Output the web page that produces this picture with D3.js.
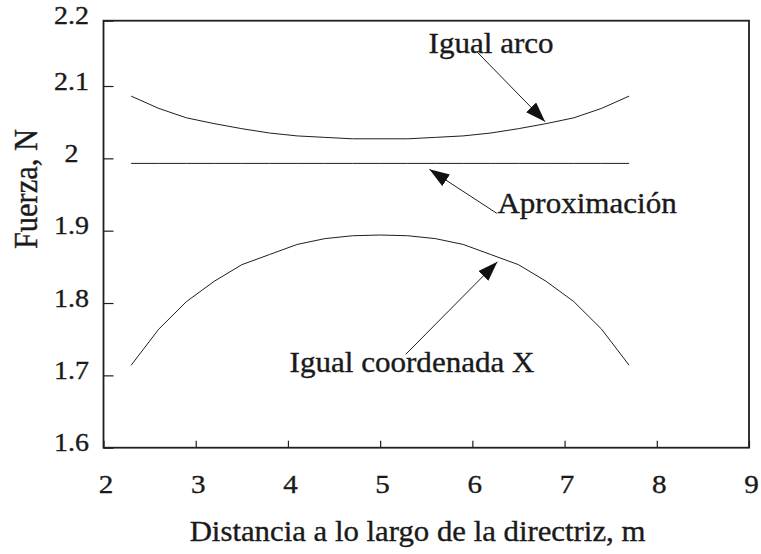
<!DOCTYPE html>
<html>
<head>
<meta charset="utf-8">
<script src="https://cdn.jsdelivr.net/npm/d3@7"></script>
<style>
  html, body { margin: 0; padding: 0; background: #fff; }
  svg { display: block; }
</style>
</head>
<body>
<svg id="chart" width="761" height="554"></svg>
<script>
// Distance along the directrix (m) where the force was evaluated
const distancia = [2.3, 2.6, 2.9, 3.2, 3.5, 3.8, 4.1, 4.4, 4.7, 5.0,
                   5.3, 5.6, 5.9, 6.2, 6.5, 6.8, 7.1, 7.4, 7.7];

// Force (N) for equal arc-length division
const igualArco = [2.086, 2.069, 2.056, 2.048, 2.041, 2.035, 2.031, 2.029, 2.027, 2.027,
                   2.027, 2.029, 2.031, 2.035, 2.041, 2.048, 2.056, 2.069, 2.086];

// Force (N) for equal X-coordinate division
const igualCoordX = [1.714, 1.764, 1.802, 1.830, 1.853, 1.867, 1.881, 1.889, 1.893, 1.894,
                     1.893, 1.889, 1.881, 1.867, 1.853, 1.830, 1.802, 1.764, 1.714];

// Constant approximation (N)
const aproximacion = [1.993, 1.993, 1.993, 1.993, 1.993, 1.993, 1.993, 1.993, 1.993, 1.993,
                      1.993, 1.993, 1.993, 1.993, 1.993, 1.993, 1.993, 1.993, 1.993];

const xTicks = [2, 3, 4, 5, 6, 7, 8, 9];
const yTicks = [1.6, 1.7, 1.8, 1.9, 2.0, 2.1, 2.2];
const yTickLabels = ["1.6", "1.7", "1.8", "1.9", "2", "2.1", "2.2"];

const xTitle = "Distancia a lo largo de la directriz, m";
const yTitle = "Fuerza, N";

// Callout labels with their arrows, in data units
const notas = [
  { texto: "Igual arco",         lx: 6.203, ly: 2.1505, x0: 6.048, y0: 2.1525, x1: 6.789, y1: 2.0507 },
  { texto: "Aproximación",       lx: 7.244, ly: 1.9244, x0: 6.265, y0: 1.9240, x1: 5.534, y1: 1.9848 },
  { texto: "Igual coordenada X", lx: 5.346, ly: 1.7047, x0: 5.278, y0: 1.7291, x1: 6.272, y1: 1.8571 }
];

const serif = "'Liberation Serif', 'Times New Roman', 'DejaVu Serif', serif";
const textInk = "#1a1a1a";

const svg = d3.select("#chart");
const plotLeft = 103.5, plotRight = 749, plotTop = 20.7, plotBottom = 447.7;

const x = d3.scaleLinear().domain([2, 9]).range([plotLeft, plotRight]);
const y = d3.scaleLinear().domain([1.6, 2.1, 2.2]).range([plotBottom, 86, plotTop]);

const ink = "#1f1f1f";

// Shared text styling: serif, slightly heavier strokes
function label(sel, size) {
  return sel.attr("font-family", serif)
    .attr("font-size", size)
    .attr("fill", textInk)
    .attr("stroke", textInk)
    .attr("stroke-width", 0.35);
}

// Axes: ticks pointing into the plot
const yAxis = d3.axisLeft(y).tickValues(yTicks).tickSize(-10).tickFormat("");
const xAxis = d3.axisBottom(x).tickValues(xTicks).tickSize(-7).tickFormat("");

const gy = svg.append("g").attr("transform", `translate(${plotLeft},0)`).call(yAxis);
const gx = svg.append("g").attr("transform", `translate(0,${plotBottom})`).call(xAxis);
[gx, gy].forEach(g => {
  g.select(".domain").remove();
  g.selectAll(".tick line").attr("stroke", ink).attr("stroke-width", 1.2);
});

// Tick labels (slightly widened serif)
svg.append("g").selectAll("text").data(yTicks).join("text")
  .call(label, 25)
  .attr("text-anchor", "middle")
  .attr("transform", d => `translate(71.5,${y(d) + 3.5}) scale(1.12,1)`)
  .text((d, i) => yTickLabels[i]);

svg.append("g").selectAll("text").data(xTicks).join("text")
  .call(label, 26)
  .attr("text-anchor", "middle")
  .attr("transform", d => `translate(${x(d) + 2.5},492.5) scale(1.12,1)`)
  .text(d => d);

// Plot frame
svg.append("rect")
  .attr("x", plotLeft).attr("y", plotTop)
  .attr("width", plotRight - plotLeft).attr("height", plotBottom - plotTop)
  .attr("fill", "none").attr("stroke", ink).attr("stroke-width", 1.8);

// Series
const line = d3.line().x((d, i) => x(distancia[i])).y(d => y(d));
[igualArco, aproximacion, igualCoordX].forEach(serie => {
  svg.append("path")
    .datum(serie)
    .attr("d", line)
    .attr("fill", "none")
    .attr("stroke", ink)
    .attr("stroke-width", 1);
});

// Arrowhead marker
svg.append("defs").append("marker")
  .attr("id", "flecha")
  .attr("markerUnits", "userSpaceOnUse")
  .attr("viewBox", "0 0 20 14")
  .attr("markerWidth", 20).attr("markerHeight", 14)
  .attr("refX", 20).attr("refY", 7)
  .attr("orient", "auto")
  .append("path")
  .attr("d", "M0,0 L20,7 L0,14 Z")
  .attr("fill", "#111");

// Callouts
const notasG = svg.append("g");
notasG.selectAll("line").data(notas).join("line")
  .attr("x1", d => x(d.x0)).attr("y1", d => y(d.y0))
  .attr("x2", d => x(d.x1)).attr("y2", d => y(d.y1))
  .attr("stroke", ink).attr("stroke-width", 1)
  .attr("marker-end", "url(#flecha)");

notasG.selectAll("text").data(notas).join("text")
  .call(label, 28.5)
  .attr("text-anchor", "middle")
  .attr("transform", d => `translate(${x(d.lx)},${y(d.ly)}) scale(1.09,1)`)
  .text(d => d.texto);

// Axis titles
svg.append("text")
  .call(label, 28.5)
  .attr("text-anchor", "middle")
  .attr("transform", "translate(417.5,541) scale(1.08,1)")
  .text(xTitle);

svg.append("text")
  .call(label, 30.5)
  .attr("text-anchor", "middle")
  .attr("transform", "translate(36.5,189) scale(1.12,1) rotate(-90)")
  .text(yTitle);
</script>
</body>
</html>
